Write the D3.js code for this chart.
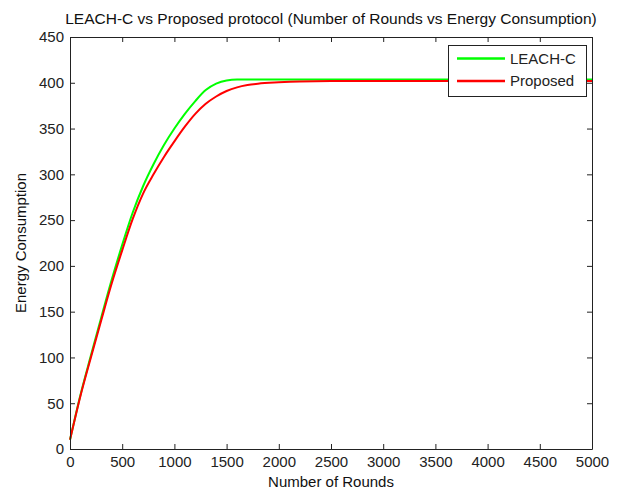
<!DOCTYPE html>
<html>
<head>
<meta charset="utf-8">
<script src="https://cdn.jsdelivr.net/npm/d3@7"></script>
<style>
  body { margin: 0; background: #fff; }
  svg text { font-family: "Liberation Sans", Arial, sans-serif; }
</style>
</head>
<body>
<svg id="chart"></svg>
<script>
// values
let rounds = [0, 100, 200, 300, 400, 500, 600, 700, 800, 900, 1000, 1100, 1200, 1300, 1400, 1500, 1600, 1700, 1800, 2000, 2200, 2500, 3000, 4000, 5000];
let leachC = [10, 59, 102, 144, 185, 223, 258, 287, 311, 332, 350, 366, 380, 392, 399, 402.5, 403.5, 403.5, 403.5, 403.5, 403.5, 403.5, 403.5, 403.5, 403.5];
let proposed = [10, 58, 100, 141, 181, 217, 251, 279, 300, 319, 336, 352, 366, 377, 385, 391, 395, 397.5, 399, 400.5, 401.5, 402, 402, 402, 402];
let seriesNames = ["LEACH-C", "Proposed"];
let seriesColors = ["#00ff00", "#ff0000"];
let xTicks = [0, 500, 1000, 1500, 2000, 2500, 3000, 3500, 4000, 4500, 5000];
let yTicks = [0, 50, 100, 150, 200, 250, 300, 350, 400, 450];

let w = 618;
let h = 490;
let margin = {left: 70, top: 37, right: 26, bottom: 41};
let innerW = w - margin.left - margin.right;
let innerH = h - margin.top - margin.bottom;

let svg = d3.select("#chart")
  .attr("width", w)
  .attr("height", h);

let xScale = d3.scaleLinear().domain([0, 5000]).range([0, innerW]);
let yScale = d3.scaleLinear().domain([0, 450]).range([innerH, 0]);

let g = svg.append("g")
  .attr("transform", "translate(" + margin.left + "," + margin.top + ")");

// lines
let series = [leachC, proposed];
let line = d3.line()
  .x((d, i) => xScale(rounds[i]))
  .y(d => yScale(d))
  .curve(d3.curveMonotoneX);

series.forEach((s, k) => {
  g.append("path")
    .datum(s)
    .attr("fill", "none")
    .attr("stroke", seriesColors[k])
    .attr("stroke-width", 2)
    .attr("d", line);
});

// axes, MATLAB style box with inward ticks
let xAxis = d3.axisBottom(xScale).tickValues(xTicks).tickSizeInner(-5).tickSizeOuter(0).tickPadding(7).tickFormat(d3.format("d"));
let yAxis = d3.axisLeft(yScale).tickValues(yTicks).tickSizeInner(-5).tickSizeOuter(0).tickPadding(6);
let xTop = d3.axisTop(xScale).tickValues(xTicks).tickSizeInner(-5).tickSizeOuter(0).tickFormat("");
let yRight = d3.axisRight(yScale).tickValues(yTicks).tickSizeInner(-5).tickSizeOuter(0).tickFormat("");

let axes = [
  g.append("g").attr("transform", "translate(0," + innerH + ")").call(xAxis),
  g.append("g").call(yAxis),
  g.append("g").call(xTop),
  g.append("g").attr("transform", "translate(" + innerW + ",0)").call(yRight)
];
axes.forEach(a => {
  a.selectAll("path, line").attr("stroke", "#222");
  a.selectAll("text").attr("fill", "#222").style("font-size", "15px");
});

// title and labels
svg.append("text")
  .attr("x", margin.left + innerW / 2)
  .attr("y", 24)
  .attr("text-anchor", "middle")
  .style("font-size", "15.5px")
  .attr("fill", "#111")
  .text("LEACH-C vs Proposed protocol (Number of Rounds vs Energy Consumption)");

svg.append("text")
  .attr("x", margin.left + innerW / 2)
  .attr("y", 487)
  .attr("text-anchor", "middle")
  .style("font-size", "15px")
  .attr("fill", "#111")
  .text("Number of Rounds");

svg.append("text")
  .attr("transform", "translate(26," + (margin.top + innerH / 2) + ") rotate(-90)")
  .attr("text-anchor", "middle")
  .style("font-size", "15px")
  .attr("fill", "#111")
  .text("Energy Consumption");

// legend
let legend = g.append("g")
  .attr("transform", "translate(" + (innerW - 144) + ",8)");

legend.append("rect")
  .attr("x", 0.5)
  .attr("y", 0.5)
  .attr("width", 138)
  .attr("height", 51)
  .attr("fill", "#fff")
  .attr("stroke", "#222");

seriesNames.forEach((name, i) => {
  legend.append("line")
    .attr("x1", 9)
    .attr("x2", 57)
    .attr("y1", 13.5 + i * 22.5)
    .attr("y2", 13.5 + i * 22.5)
    .attr("stroke", seriesColors[i])
    .attr("stroke-width", 2.5);
  legend.append("text")
    .attr("x", 62)
    .attr("y", 13.5 + i * 22.5)
    .attr("dy", "0.36em")
    .style("font-size", "15px")
    .attr("fill", "#222")
    .text(name);
});
</script>
</body>
</html>
